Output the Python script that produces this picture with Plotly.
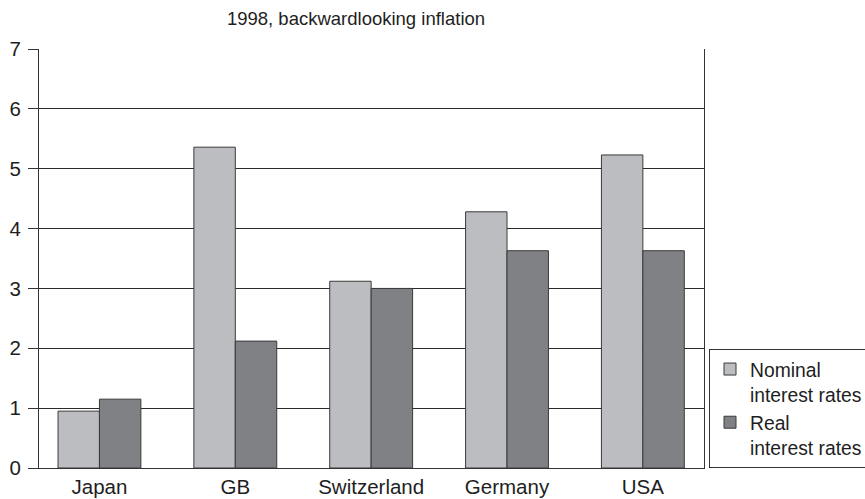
import plotly.graph_objects as go

countries = ["Japan", "GB", "Switzerland", "Germany", "USA"]
nominal = [0.95, 5.36, 3.12, 4.28, 5.23]
real = [1.15, 2.12, 3.0, 3.63, 3.63]
series_names = ["Nominal<br>interest rates", "Real<br>interest rates"]
title_text = "1998, backwardlooking inflation"
y_ticks = [0, 1, 2, 3, 4, 5, 6, 7]

FONT = "Liberation Sans, Arial, Helvetica, sans-serif"
TXT = "#1e1e1e"

fig = go.Figure()
fig.add_trace(go.Bar(
    x=countries, y=nominal, name=series_names[0],
    marker=dict(color="#bcbdc1", line=dict(color="#3a3a3a", width=1)),
))
fig.add_trace(go.Bar(
    x=countries, y=real, name=series_names[1],
    marker=dict(color="#808185", line=dict(color="#3a3a3a", width=1)),
))

fig.update_layout(
    width=865, height=499,
    margin=dict(l=39, r=161, t=49, b=31, autoexpand=False),
    paper_bgcolor="white", plot_bgcolor="white",
    barmode="group", bargap=0.39, bargroupgap=0,
    font=dict(family=FONT, size=20, color=TXT),
    title=dict(text=title_text, x=356 / 865, xanchor="center",
               y=1 - 19 / 499, yanchor="middle",
               font=dict(family=FONT, size=18.5, color=TXT)),
    legend=dict(xref="container", x=709 / 865, xanchor="left",
                yref="container", y=31 / 499, yanchor="bottom",
                bordercolor="#333333", borderwidth=1, bgcolor="white",
                valign="top",
                font=dict(family=FONT, size=19.3, color=TXT)),
    showlegend=True,
)

fig.update_xaxes(
    range=[-0.445, 4.45], showgrid=False, showline=True, linecolor="#333333",
    linewidth=1, ticks="", automargin=False,
    tickfont=dict(family=FONT, size=20.5, color=TXT),
)
fig.update_yaxes(
    range=[0, 7], tickvals=y_ticks, showgrid=True, gridcolor="#2a2a2a", gridwidth=1,
    showline=True, linecolor="#333333", linewidth=1, mirror=True,
    ticks="outside", ticklen=10, tickcolor="#333333", automargin=False,
    ticklabelstandoff=3,
    tickfont=dict(family=FONT, size=20.5, color=TXT), zeroline=False,
)

fig.write_html("out.html")
